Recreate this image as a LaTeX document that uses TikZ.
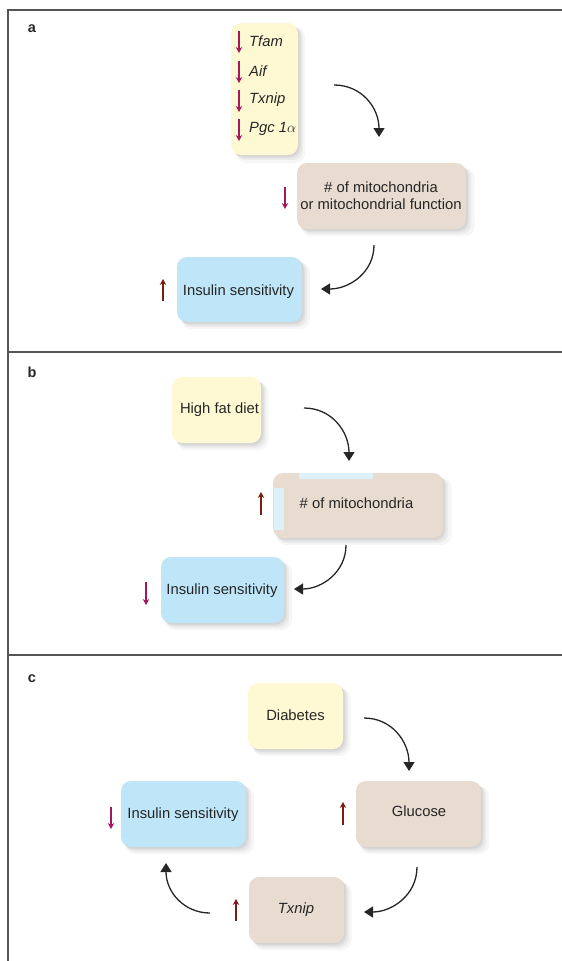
\documentclass[tikz,border=0pt]{standalone}
\usepackage{fontspec}
\setmainfont{Liberation Sans}
\usetikzlibrary{arrows.meta,shadows}
\definecolor{boxyellow}{HTML}{FFF9D3}
\definecolor{boxtan}{HTML}{E8DCD1}
\definecolor{boxblue}{HTML}{BEE5F8}
\definecolor{stripblue}{HTML}{DDF1FB}
\definecolor{magarr}{HTML}{A3195D}
\definecolor{redarr}{HTML}{7A1E14}
\definecolor{framegray}{HTML}{555555}
\tikzset{
  boxbase/.style={rounded corners=10pt, inner sep=0pt, align=center,
    font=\fontsize{14.8}{17}\selectfont, text=black!85,
    drop shadow={shadow xshift=6pt, shadow yshift=-6pt, opacity=0.035, fill=black, shadow scale=1.03},
    drop shadow={shadow xshift=4.5pt, shadow yshift=-4.5pt, opacity=0.045, fill=black, shadow scale=1.01},
    drop shadow={shadow xshift=3pt, shadow yshift=-3pt, opacity=0.05, fill=black},
    drop shadow={shadow xshift=1.5pt, shadow yshift=-1.5pt, opacity=0.05, fill=black}},
  ybox/.style={boxbase, fill=boxyellow},
  tbox/.style={boxbase, fill=boxtan},
  bbox/.style={boxbase, fill=boxblue},
  txt/.style={inner sep=0pt, font=\fontsize{14.8}{17.5}\selectfont, text=black!85},
  gene/.style={txt, anchor=west, font=\fontsize{14.8}{17}\selectfont\itshape},
  panellabel/.style={inner sep=0pt, font=\fontsize{14.5}{16}\selectfont\bfseries, text=black!85},
  flow/.style={line width=1.3pt, black!85, -{Triangle[length=9pt,width=11pt]}},
  downarr/.style={line width=1.2pt, magarr, -{Stealth[length=6pt,width=6.5pt]}},
  uparr/.style={line width=1.2pt, redarr, -{Stealth[length=6pt,width=6.5pt]}},
  frameline/.style={line width=1.5pt, framegray}
}
\begin{document}
\begin{tikzpicture}[x=1pt,y=-1pt]
\useasboundingbox (0,0) rectangle (562,961);
% frame
\draw[frameline] (8,961) -- (8,10) -- (562,10);
\draw[frameline] (8,352) -- (562,352);
\draw[frameline] (8,655) -- (562,655);

% ---------------- panel a ----------------
\node[panellabel] (la) at (32,29) {a};
\node[ybox, minimum width=67pt, minimum height=132pt] (ya) at (264.5,89) {};
\node[gene] (g1) at (249,41) {Tfam};
\node[gene] (g2) at (249,71) {Aif};
\node[gene] (g3) at (249,100) {Txnip};
\node[gene] (g4) at (249,129) {Pgc 1$\alpha$};
\draw[downarr] (239,31) -- (239,53);
\draw[downarr] (239,61) -- (239,83);
\draw[downarr] (239,90) -- (239,112);
\draw[downarr] (239,119) -- (239,141);

\node[tbox, minimum width=169pt, minimum height=66pt] (ma) at (381.5,196) {};
\node[txt, align=center] (mat) at (381,195.5) {\# of mitochondria\\or mitochondrial function};
\draw[downarr] (285,187) -- (285,209);

\node[bbox, minimum width=125pt, minimum height=65pt] (ia) at (239.5,289.5) {};
\node[txt] (iat) at (238.5,292) {Insulin sensitivity};
\draw[uparr] (163,301) -- (163,279);

\coordinate (a1s) at (334,85);
\coordinate (a1e) at (379,137);
\coordinate (a2s) at (374,245);
\coordinate (a2e) at (321,289);
\draw[flow] (a1s) .. controls (362,85) and (379,108) .. (a1e);
\draw[flow] (a2s) .. controls (374,272) and (350,289) .. (a2e);

% ---------------- panel b ----------------
\node[panellabel] (lb) at (32,372) {b};
\node[ybox, minimum width=89pt, minimum height=66pt] (yb) at (216.5,410) {};
\node[txt] (ybt) at (219.5,410) {High fat diet};

\node[tbox, minimum width=170pt, minimum height=65pt] (mb) at (358,505.5) {};
\fill[stripblue] (299,473) rectangle (373,479);
\fill[stripblue] (274,488) rectangle (284,530);
\node[txt] (mbt) at (356.5,503) {\# of mitochondria};
\draw[uparr] (261,515) -- (261,492);

\node[bbox, minimum width=123pt, minimum height=66pt] (ib) at (222.5,590) {};
\node[txt] (ibt) at (222,591) {Insulin sensitivity};
\draw[downarr] (146,582) -- (146,605);

\coordinate (b1s) at (304,408);
\coordinate (b1e) at (349,461);
\coordinate (b2s) at (346,545);
\coordinate (b2e) at (294,589);
\draw[flow] (b1s) .. controls (332,408) and (349,432) .. (b1e);
\draw[flow] (b2s) .. controls (346,572) and (322,589) .. (b2e);

% ---------------- panel c ----------------
\node[panellabel] (lc) at (32,679) {c};
\node[ybox, minimum width=95pt, minimum height=66pt] (yc) at (295.5,716) {};
\node[txt] (yct) at (295.5,715) {Diabetes};

\node[tbox, minimum width=125pt, minimum height=66pt] (gc) at (418.5,814) {};
\node[txt] (gct) at (419,811) {Glucose};
\draw[uparr] (343,825) -- (343,802);

\node[tbox, minimum width=95pt, minimum height=66pt] (tc) at (296.5,910) {};
\node[txt, font=\fontsize{14.8}{17}\selectfont\itshape] (tct) at (296,910) {Txnip};
\draw[uparr] (236,921) -- (236,899);

\node[bbox, minimum width=125pt, minimum height=66pt] (ic) at (183.5,814) {};
\node[txt] (ict) at (183,815) {Insulin sensitivity};
\draw[downarr] (111,807) -- (111,829);

\coordinate (c1s) at (364,718);
\coordinate (c1e) at (409,771);
\coordinate (c2s) at (417,867);
\coordinate (c2e) at (364,912);
\coordinate (c3s) at (210,913);
\coordinate (c3e) at (166,863);
\draw[flow] (c1s) .. controls (392,718) and (409,742) .. (c1e);
\draw[flow] (c2s) .. controls (417,895) and (392,912) .. (c2e);
\draw[flow] (c3s) .. controls (184,913) and (166,892) .. (c3e);
\end{tikzpicture}
\end{document}
